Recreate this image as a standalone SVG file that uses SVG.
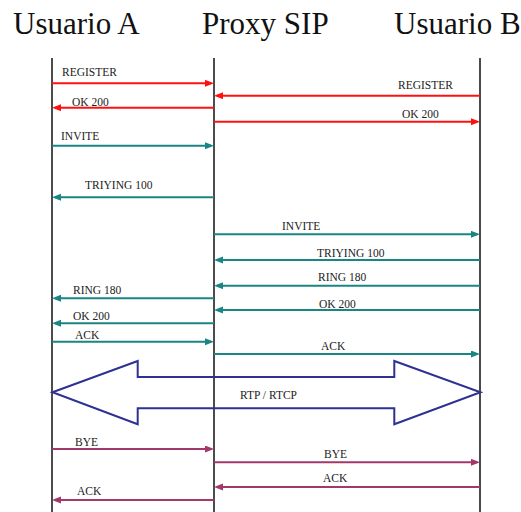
<svg xmlns="http://www.w3.org/2000/svg" width="521" height="512" viewBox="0 0 521 512">
  <style>
    .hdr { font-family: "Liberation Serif", "Times New Roman", serif; font-size: 31px; fill: #111; }
    .lbl { font-family: "Liberation Serif", "Times New Roman", serif; font-size: 11.5px; fill: #222; }
    .life { stroke: #111; stroke-width: 1.5; fill: none; }
    .red { stroke: #ff1010; stroke-width: 2; fill: none; }
    .teal { stroke: #1a8585; stroke-width: 2; fill: none; }
    .pur { stroke: #a3386c; stroke-width: 2; fill: none; }
  </style>
  <defs>
    <marker id="mr" markerUnits="userSpaceOnUse" markerWidth="10" markerHeight="8" refX="6" refY="3.5" orient="auto">
      <path d="M0,0 L9,3.5 L0,7 z" fill="#ff1010"/>
    </marker>
    <marker id="mt" markerUnits="userSpaceOnUse" markerWidth="10" markerHeight="8" refX="6" refY="3.5" orient="auto">
      <path d="M0,0 L9,3.5 L0,7 z" fill="#1a8585"/>
    </marker>
    <marker id="mp" markerUnits="userSpaceOnUse" markerWidth="10" markerHeight="8" refX="6" refY="3.5" orient="auto">
      <path d="M0,0 L9,3.5 L0,7 z" fill="#a3386c"/>
    </marker>
  </defs>
  <rect width="521" height="512" fill="#ffffff"/>

  <g id="usuario-a">
    <text class="hdr" x="13" y="34">Usuario A</text>
    <line class="life" x1="52" y1="58" x2="52" y2="512"/>
  </g>
  <g id="proxy-sip">
    <text class="hdr" x="202" y="34">Proxy SIP</text>
    <line class="life" x1="214" y1="58" x2="214" y2="512"/>
  </g>
  <g id="usuario-b">
    <text class="hdr" x="394" y="34">Usuario B</text>
    <line class="life" x1="480" y1="58" x2="480" y2="512" style="stroke:#4a4a4a;stroke-width:2"/>
  </g>

  <g id="rtp-rtcp">
    <polygon points="52.5,392.3 137.7,361 137.7,377 394.3,377 394.3,361 480.5,392.3 394.3,424.3 394.3,408.3 137.7,408.3 137.7,424.3" fill="none" stroke="#2e3192" stroke-width="2" stroke-linejoin="miter"/>
    <text class="lbl" x="240" y="398.5">RTP / RTCP</text>
  </g>

  <g id="connectors">
    <line class="red" x1="52" y1="83.3" x2="211" y2="83.3" marker-end="url(#mr)"/>
    <text class="lbl" x="62" y="76">REGISTER</text>
    <line class="red" x1="480" y1="95.7" x2="217" y2="95.7" marker-end="url(#mr)"/>
    <text class="lbl" x="398" y="88.5">REGISTER</text>
    <line class="red" x1="214" y1="107.7" x2="55" y2="107.7" marker-end="url(#mr)"/>
    <text class="lbl" x="72" y="105.5">OK 200</text>
    <line class="red" x1="214" y1="121.7" x2="477" y2="121.7" marker-end="url(#mr)"/>
    <text class="lbl" x="402" y="118">OK 200</text>

    <line class="teal" x1="52" y1="145.7" x2="211" y2="145.7" marker-end="url(#mt)"/>
    <text class="lbl" x="61" y="140">INVITE</text>
    <line class="teal" x1="214" y1="197.3" x2="55" y2="197.3" marker-end="url(#mt)"/>
    <text class="lbl" x="85" y="188.5">TRIYING 100</text>
    <line class="teal" x1="214" y1="234.3" x2="477" y2="234.3" marker-end="url(#mt)"/>
    <text class="lbl" x="282" y="229.5">INVITE</text>
    <line class="teal" x1="480" y1="260" x2="217" y2="260" marker-end="url(#mt)"/>
    <text class="lbl" x="317" y="256.5">TRIYING 100</text>
    <line class="teal" x1="480" y1="285.7" x2="217" y2="285.7" marker-end="url(#mt)"/>
    <text class="lbl" x="318" y="281">RING 180</text>
    <line class="teal" x1="214" y1="298.3" x2="55" y2="298.3" marker-end="url(#mt)"/>
    <text class="lbl" x="73" y="293.5">RING 180</text>
    <line class="teal" x1="480" y1="310" x2="217" y2="310" marker-end="url(#mt)"/>
    <text class="lbl" x="319" y="308">OK 200</text>
    <line class="teal" x1="214" y1="323.3" x2="55" y2="323.3" marker-end="url(#mt)"/>
    <text class="lbl" x="73" y="320">OK 200</text>
    <line class="teal" x1="52" y1="341.7" x2="211" y2="341.7" marker-end="url(#mt)"/>
    <text class="lbl" x="75" y="338.5">ACK</text>
    <line class="teal" x1="214" y1="354" x2="477" y2="354" marker-end="url(#mt)"/>
    <text class="lbl" x="321" y="350">ACK</text>

    <line class="pur" x1="52" y1="449" x2="211" y2="449" marker-end="url(#mp)"/>
    <text class="lbl" x="75" y="446">BYE</text>
    <line class="pur" x1="214" y1="462.3" x2="477" y2="462.3" marker-end="url(#mp)"/>
    <text class="lbl" x="324" y="458">BYE</text>
    <line class="pur" x1="480" y1="487" x2="217" y2="487" marker-end="url(#mp)"/>
    <text class="lbl" x="323" y="482">ACK</text>
    <line class="pur" x1="214" y1="500" x2="55" y2="500" marker-end="url(#mp)"/>
    <text class="lbl" x="77" y="495">ACK</text>
  </g>
</svg>
